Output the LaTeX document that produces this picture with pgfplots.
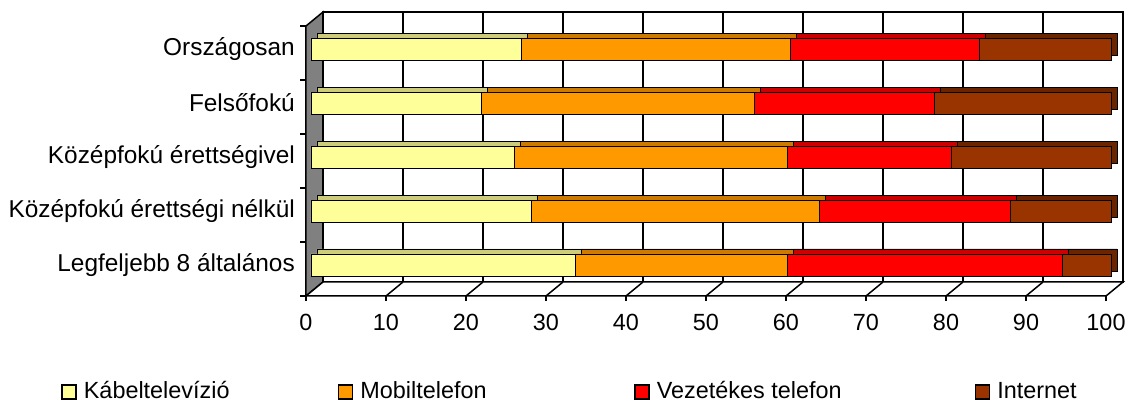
\documentclass[border=0pt]{standalone}
\usepackage{pgfplots}
\usepackage{pgfplotstable}
\pgfplotsset{compat=1.18}
\usepackage{fontspec}
\setmainfont{Liberation Sans}

\definecolor{kabel}{HTML}{FFFF99}
\definecolor{kabeltop}{HTML}{CCCC7A}
\definecolor{mobil}{HTML}{FF9900}
\definecolor{mobiltop}{HTML}{CC7A00}
\definecolor{vezet}{HTML}{FF0000}
\definecolor{vezettop}{HTML}{CC0000}
\definecolor{inter}{HTML}{993300}
\definecolor{intertop}{HTML}{6B2400}
\definecolor{wall}{HTML}{808080}

% shares in percent, rows bottom to top
\pgfplotstableread{
c kabel mobil vezet inter
0 33.0 26.6 34.3 6.1
1 27.5 36.1 23.8 12.6
2 25.4 34.2 20.5 19.9
3 21.3 34.1 22.5 22.1
4 26.3 33.6 23.7 16.4
}\shares

% 1 unit of x = 4pt, 1 category = 27pt
\pgfplotsset{base/.style={scale only axis,width=400pt,height=135pt,anchor=south west,
  xmin=0,xmax=100,ymin=-0.5,ymax=4.5,xbar stacked,bar width=11pt,clip=false}}

\begin{document}
\fontsize{11.7}{14}\selectfont
\begin{tikzpicture}[line width=0.75pt]
\path[use as bounding box] (-155.5pt,-54.5pt) rectangle (409.5pt,146pt);

% back wall, left wall, floor
\draw[fill=white] (6pt,5pt) rectangle (406pt,140pt);
\foreach \v in {1,...,9} \draw ({\v*40pt+6pt},5pt) -- ({\v*40pt+6pt},140pt);
\draw[fill=wall] (-2.5pt,-2pt) -- (-2.5pt,133pt) -- (6pt,140pt) -- (6pt,5pt) -- cycle;
\draw[fill=white] (-2.5pt,-2pt) -- (397.5pt,-2pt) -- (406pt,5pt) -- (6pt,5pt) -- cycle;
\foreach \v in {1,...,9} \draw ({\v*40pt-2.5pt},-2pt) -- ({\v*40pt+6pt},5pt);
\foreach \v in {0,...,10} \draw ({\v*40pt-2.5pt},-2pt) -- ++(0,-2.5pt);
\foreach \c in {0,...,5} \draw (-2.5pt,{\c*27pt-2pt}) -- ++(-3pt,0);

% depth of the bars
\begin{axis}[base,hide axis,at={(3pt,2.5pt)}]
\addplot[fill=kabeltop,draw=black] table[x=kabel,y=c] {\shares};
\addplot[fill=mobiltop,draw=black] table[x=mobil,y=c] {\shares};
\addplot[fill=vezettop,draw=black] table[x=vezet,y=c] {\shares};
\addplot[fill=intertop,draw=black] table[x=inter,y=c] {\shares};
\end{axis}

% front faces, labels and legend
\begin{axis}[base,at={(0pt,0pt)},
  axis line style={draw=none},major tick length=0pt,
  xtick={0,10,...,100},ytick={0,1,2,3,4},
  yticklabels={Legfeljebb 8 általános,Középfokú érettségi nélkül,Középfokú érettségivel,Felsőfokú,Országosan},
  /pgf/number format/assume math mode=true,
  xticklabel style={xshift=-2.5pt,yshift=-7pt},
  yticklabel style={xshift=-4pt,font=\fontsize{12.2}{14}\selectfont},
  legend columns=4,
  legend style={draw=none,fill=none,at={(-0.3125,-0.37)},anchor=west,inner sep=0pt,
    nodes={inner sep=0pt},
    /tikz/every odd column/.style={column sep=3.5pt},
    /tikz/every even column/.style={column sep=0pt}},
  every axis plot post/.append style={legend image code/.code={
    \draw[##1,line width=0.75pt] (0pt,-3.5pt) rectangle (7pt,3.5pt);}}]
\addplot[fill=kabel,draw=black] table[x=kabel,y=c] {\shares};
\addlegendentry{\makebox[127pt][l]{Kábeltelevízió}}
\addplot[fill=mobil,draw=black] table[x=mobil,y=c] {\shares};
\addlegendentry{\makebox[137pt][l]{Mobiltelefon}}
\addplot[fill=vezet,draw=black] table[x=vezet,y=c] {\shares};
\addlegendentry{\makebox[159pt][l]{Vezetékes telefon}}
\addplot[fill=inter,draw=black] table[x=inter,y=c] {\shares};
\addlegendentry{Internet}
\end{axis}
\end{tikzpicture}
\end{document}
